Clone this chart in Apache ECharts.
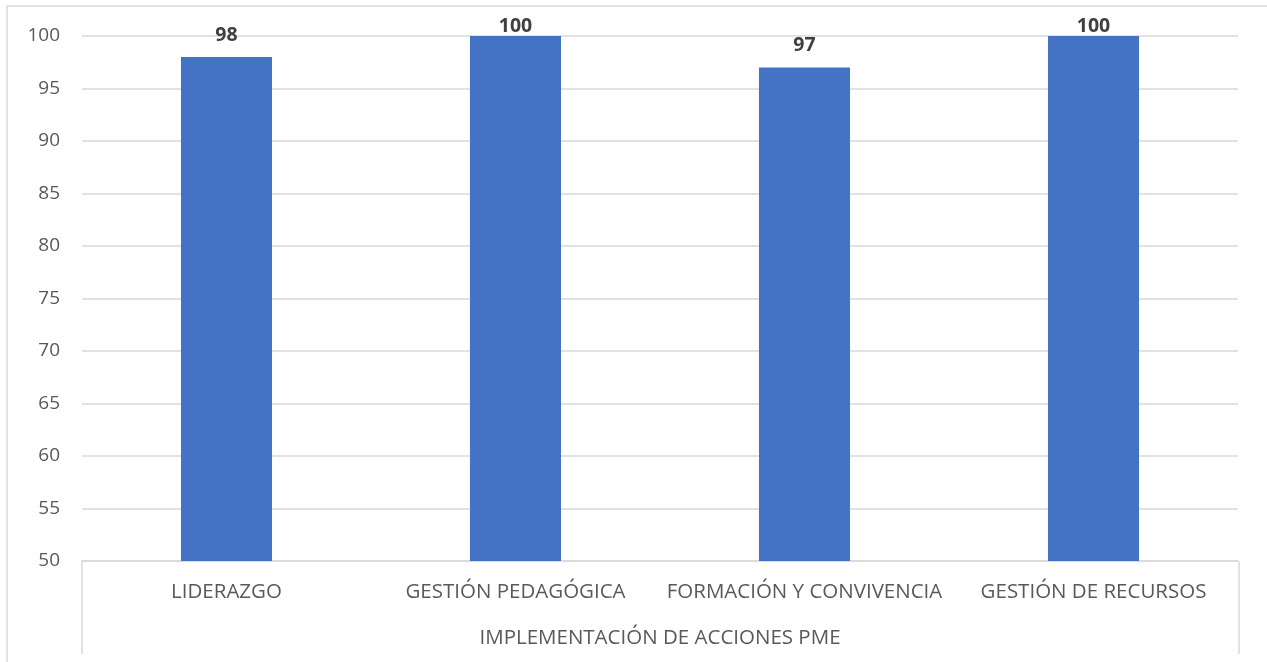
<!DOCTYPE html>
<html>
<head>
<meta charset="utf-8">
<script src="https://cdn.jsdelivr.net/npm/echarts@6/dist/echarts.min.js"></script>
<style>html,body{margin:0;padding:0;background:#fff;}#c{width:1267px;height:662px;}</style>
</head>
<body>
<div id="c"></div>
<script>
const categories = ['LIDERAZGO', 'GESTIÓN PEDAGÓGICA', 'FORMACIÓN Y CONVIVENCIA', 'GESTIÓN DE RECURSOS'];
const values = [98, 100, 97, 100];
const groupLabel = 'IMPLEMENTACIÓN DE ACCIONES PME';
const yMin = 50, yMax = 100, yStep = 5;

const chart = echarts.init(document.getElementById('c'));
const font = '"Open Sans", "Noto Sans", sans-serif';
chart.setOption({
  animation: false,
  grid: { left: 82, right: 29, top: 36, bottom: 101 },
  xAxis: {
    type: 'category',
    data: categories,
    axisLine: { lineStyle: { color: '#d9d9d9', width: 1.5 } },
    axisTick: { show: false },
    axisLabel: { color: '#595959', fontSize: 20.5, fontFamily: font, margin: 21, interval: 0 },
    name: groupLabel,
    nameLocation: 'middle',
    nameGap: 67,
    nameTextStyle: { color: '#595959', fontSize: 20.5, fontFamily: font }
  },
  yAxis: {
    type: 'value',
    min: yMin, max: yMax, interval: yStep,
    axisLine: { show: false },
    axisTick: { show: false },
    axisLabel: { color: '#595959', fontSize: 19, fontFamily: font, margin: 22 },
    splitLine: { lineStyle: { color: '#d9d9d9', width: 1.5 } }
  },
  series: [{
    type: 'bar',
    data: values,
    barWidth: '31.5%',
    itemStyle: { color: '#4472C4' },
    label: {
      show: true, position: 'top', distance: 12,
      color: '#404040', fontSize: 19.5, fontWeight: 'bold', fontFamily: font
    },
    labelLayout: function (p) {
      const r = p.labelRect;
      const cy = r.y + r.height / 2;
      return { x: r.x + r.width / 2, y: Math.max(cy, 26), align: 'center', verticalAlign: 'middle' };
    }
  }],
  graphic: [
    { type: 'rect', shape: { x: 7, y: 6, width: 1280, height: 680 }, style: { fill: 'none', stroke: '#d9d9d9', lineWidth: 1.5 }, silent: true },
    { type: 'line', shape: { x1: 82, y1: 561, x2: 82, y2: 654 }, style: { stroke: '#d9d9d9', lineWidth: 1.5 }, silent: true },
    { type: 'line', shape: { x1: 1239, y1: 561, x2: 1239, y2: 654 }, style: { stroke: '#d9d9d9', lineWidth: 1.5 }, silent: true }
  ]
});
</script>
</body>
</html>
